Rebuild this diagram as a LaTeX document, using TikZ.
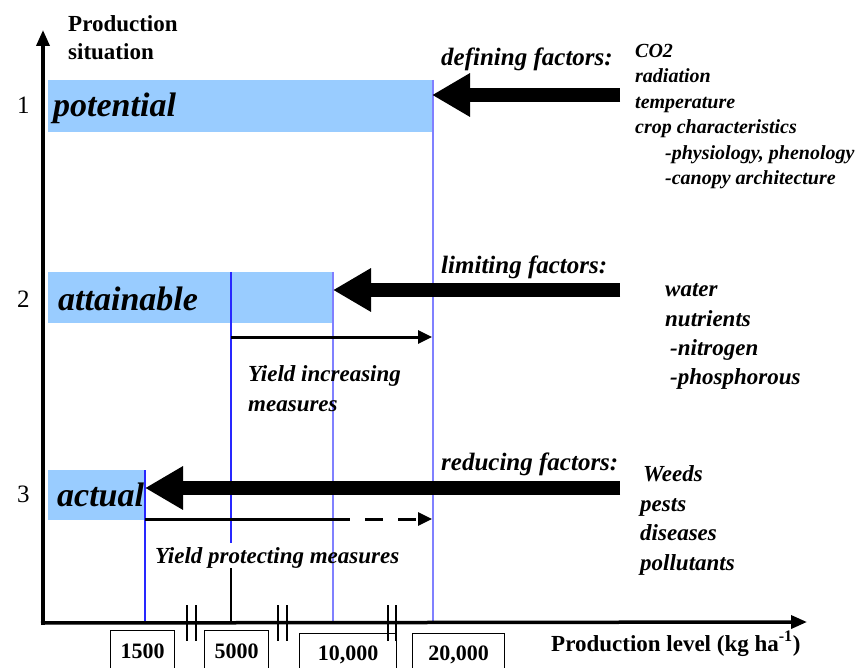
\documentclass[tikz,border=0pt]{standalone}
\usepackage{fontspec}
\setmainfont{Liberation Serif}
\usetikzlibrary{arrows.meta}
\definecolor{barblue}{RGB}{153,204,255}
\definecolor{lineblue}{RGB}{40,40,255}
\definecolor{lightline}{RGB}{128,128,255}
\begin{document}
\begin{tikzpicture}[x=1pt,y=-1pt,
  bar/.style={fill=barblue,draw=none,anchor=north west,inner sep=0pt},
  lvl/.style={font=\fontsize{34}{40}\selectfont\bfseries\itshape,anchor=base west,inner sep=0pt},
  num/.style={font=\fontsize{25}{30}\selectfont,anchor=base west,inner sep=0pt},
  hdr/.style={font=\fontsize{25}{30}\selectfont\bfseries\itshape,anchor=base west,inner sep=0pt},
  itemA/.style={font=\fontsize{20}{24}\selectfont\bfseries\itshape,anchor=base west,inner sep=0pt},
  itemB/.style={font=\fontsize{23}{28}\selectfont\bfseries\itshape,anchor=base west,inner sep=0pt},
  axlabel/.style={font=\fontsize{23}{28}\selectfont\bfseries,anchor=base west,inner sep=0pt},
  valbox/.style={draw,line width=1pt,anchor=north west,inner sep=0pt,minimum height=42pt,font=\fontsize{22}{26}\selectfont\bfseries},
  bigarrow/.style={line width=14pt,-{Triangle[length=38pt,width=41pt]}},
  thinarrow/.style={line width=3pt,-{Triangle[length=14pt,width=13pt]}},
  axisline/.style={line width=3.5pt,-{Triangle[length=16pt,width=13pt]}},
  vline/.style={line width=1.6pt},
  brk/.style={line width=1.4pt}
]
\useasboundingbox (0,0) rectangle (859,668);

% bars
\node[bar,minimum width=384pt,minimum height=52pt] (potbar) at (48,80) {};
\node[bar,minimum width=285pt,minimum height=51pt] (attbar) at (48,272) {};
\node[bar,minimum width=97pt,minimum height=50pt] (actbar) at (48,470) {};

% coordinates
\coordinate (origin) at (43,623);
\coordinate (ytop) at (43,30);
\coordinate (xend) at (807,622);
\coordinate (v1top) at (145,470);  \coordinate (v1bot) at (145,623);
\coordinate (v2top) at (231,272);  \coordinate (v2mid) at (231,543);
\coordinate (v2low) at (231,568);  \coordinate (v2bot) at (231,623);
\coordinate (v3top) at (333,272);  \coordinate (v3bot) at (333,623);
\coordinate (v4top) at (433,80);   \coordinate (v4bot) at (433,622);

% vertical lines
\draw[vline,lightline] (v4top) -- (v4bot);
\draw[vline,lightline] (v3top) -- (v3bot);
\draw[vline,lineblue] (v2top) -- (v2mid);
\draw[vline,black,line width=1.2pt] (v2low) -- (v2bot);
\draw[vline,lineblue] (v1top) -- (v1bot);

% axes
\draw[axisline] (41,623) -- (xend);
\draw[axisline] (43,625) -- (ytop);

% break marks
\foreach \bx in {187,196,278,287,388,396}{
  \draw[brk] (\bx,605) -- (\bx,641);
}

% level labels
\node[num] (n1) at (17,114) {1};
\node[num] (n2) at (17,307) {2};
\node[num] (n3) at (17,502) {3};
\node[lvl] (lpot) at (53,117) {potential};
\node[lvl] (latt) at (58,310) {attainable};
\node[lvl] (lact) at (57,506) {actual};

% axis titles
\node[axlabel] (ps1) at (68,32) {Production};
\node[axlabel] (ps2) at (68,60) {situation};
\node[axlabel] (pl) at (551,651) {Production level (kg ha\textsuperscript{-1})};

% value boxes
\node[valbox,minimum width=64pt] (b1500) at (110,630) {1500};
\node[valbox,minimum width=64pt] (b5000) at (204,630) {5000};
\node[valbox,minimum width=97pt] (b10000) at (299,633) {10,000\hspace{12pt}};
\node[valbox,minimum width=92pt] (b20000) at (412,633) {20,000\hspace{12pt}};

% big arrows
\coordinate (defsrc) at (620,95);  \coordinate (deftip) at (432,95);
\coordinate (limsrc) at (620,290); \coordinate (limtip) at (333,290);
\coordinate (redsrc) at (620,488); \coordinate (redtip) at (145,488);
\draw[bigarrow] (defsrc) -- (deftip);
\draw[bigarrow] (limsrc) -- (limtip);
\draw[bigarrow] (redsrc) -- (redtip);

% thin arrows
\coordinate (incA) at (231,337); \coordinate (incB) at (432,337);
\draw[thinarrow] (incA) -- (incB);
\coordinate (proA) at (145,519); \coordinate (proB) at (350,519);
\coordinate (proC) at (365,519); \coordinate (proD) at (432,519);
\draw[line width=3pt] (proA) -- (proB);
\draw[thinarrow,dash pattern=on 18pt off 15pt] (proC) -- (proD);

% factor headings
\node[hdr] (hdef) at (441,66) {defining factors:};
\node[hdr] (hlim) at (441,273) {limiting factors:};
\node[hdr] (hred) at (441,470) {reducing factors:};

% defining list
\node[itemA] (d1) at (635,58) {CO2};
\node[itemA] (d2) at (635,83) {radiation};
\node[itemA] (d3) at (635,109) {temperature};
\node[itemA] (d4) at (635,134) {crop characteristics};
\node[itemA] (d5) at (665,160) {-physiology, phenology};
\node[itemA] (d6) at (665,185) {-canopy architecture};

% limiting list
\node[itemB] (l1) at (665,297) {water};
\node[itemB] (l2) at (665,326) {nutrients};
\node[itemB] (l3) at (670,355) {-nitrogen};
\node[itemB] (l4) at (670,384) {-phosphorous};

% reducing list
\node[itemB] (r1) at (643,481) {Weeds};
\node[itemB] (r2) at (640,511) {pests};
\node[itemB] (r3) at (640,540) {diseases};
\node[itemB] (r4) at (640,570) {pollutants};

% measures
\node[itemB] (yi1) at (248,381) {Yield increasing};
\node[itemB] (yi2) at (248,411) {measures};
\node[itemB] (yp) at (155,563) {Yield protecting measures};
\end{tikzpicture}
\end{document}
